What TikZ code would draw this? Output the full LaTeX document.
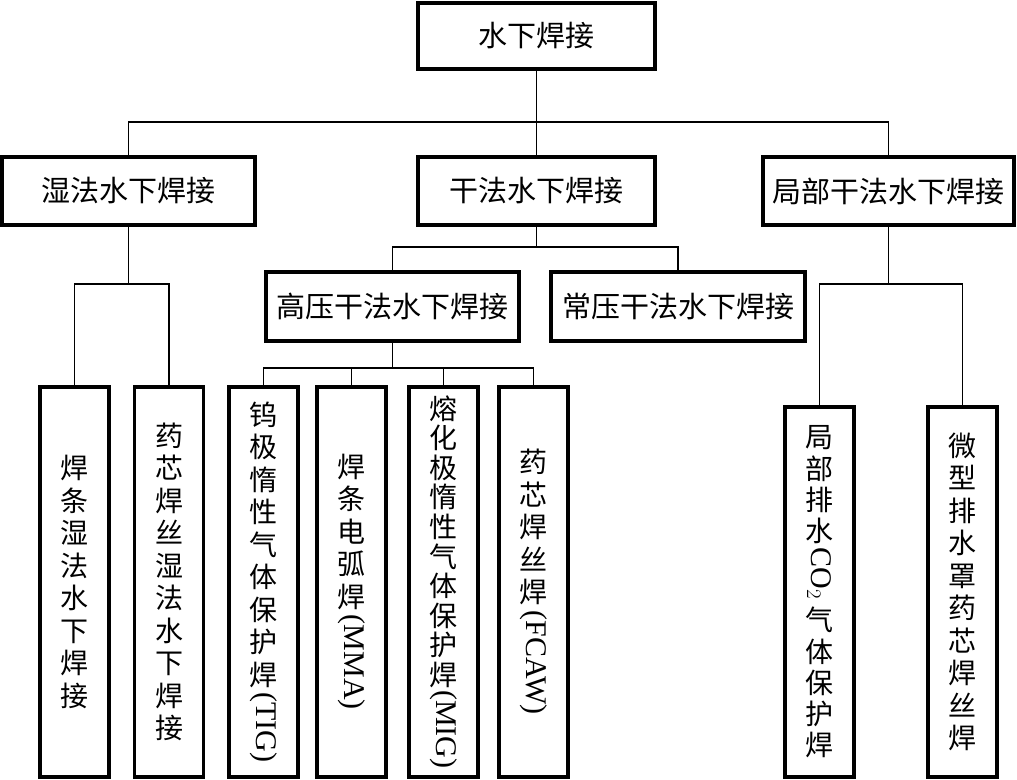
\documentclass[tikz,border=0pt]{standalone}
\usepackage{fontspec}
\usepackage{graphicx}
\setmainfont{Liberation Serif}
\newfontfamily\cjk{Noto Sans CJK SC}
\newfontfamily\lat{Liberation Serif}
\newcommand{\rl}[1]{\raisebox{25pt}{\rotatebox{-90}{\lat\fontsize{30}{30}\selectfont #1}}}
\tikzset{
  box/.style={draw, line width=3.2pt, minimum height=68pt, inner sep=0pt,
    font=\cjk\fontsize{29}{29}\selectfont},
  col/.style={draw, line width=3.2pt, minimum width=69pt, inner sep=0pt, align=center,
    font=\cjk\fontsize{28}{32.5}\selectfont},
  link/.style={line width=1.2pt},
}
\begin{document}
\begin{tikzpicture}[x=1pt,y=-1pt]
\fill[white] (0,0) rectangle (1017,779);
\useasboundingbox (0,0) rectangle (1017,779);

% level 1 and 2
\node[box, minimum width=237pt, minimum height=66pt] (top) at (536.5,36) {水下焊接};
\node[box, minimum width=253pt] (wet) at (128.5,191) {湿法水下焊接};
\node[box, minimum width=237pt] (dry) at (536.5,191) {干法水下焊接};
\node[box, minimum width=251pt] (loc) at (888.5,191) {局部干法水下焊接};
% level 3
\node[box, minimum width=253pt, minimum height=69pt] (hp) at (392.5,306.5) {高压干法水下焊接};
\node[box, minimum width=254pt, minimum height=69pt] (np) at (678,306.5) {常压干法水下焊接};
% columns
\node[col, minimum height=390pt] (c1) at (74.5,582) {焊\\条\\湿\\法\\水\\下\\焊\\接};
\node[col, minimum height=390pt] (c2) at (169,582) {药\\芯\\焊\\丝\\湿\\法\\水\\下\\焊\\接};
\node[col, minimum height=390pt] (tig) at (263.5,582) {钨\\极\\惰\\性\\气\\体\\保\\护\\焊\\\rl{(TIG)}};
\node[col, minimum height=390pt] (mma) at (351.5,582) {焊\\条\\电\\弧\\焊\\\rl{(MMA)}};
\node[col, minimum height=390pt, font=\cjk\fontsize{28}{29.6}\selectfont] (mig) at (443.5,582) {熔\\化\\极\\惰\\性\\气\\体\\保\\护\\焊\\\rl{(MIG)}};
\node[col, minimum height=390pt] (fcaw) at (533.5,582) {药\\芯\\焊\\丝\\焊\\\rl{(FCAW)}};
\node[col, minimum height=370pt, font=\cjk\fontsize{28}{31.2}\selectfont] (co) at (819.5,592) {局\\部\\排\\水\\\rl{CO$_2$}\\[7pt]气\\体\\保\\护\\焊};
\node[col, minimum height=370pt] (mic) at (962.5,592) {微\\型\\排\\水\\罩\\药\\芯\\焊\\丝\\焊};

% connectors
\coordinate (b1) at (536.5,122);
\draw[link] (top.south) -- (b1);
\draw[link] (wet.north) |- (b1) -| (loc.north);
\draw[link] (dry.north) -- (b1);

\coordinate (b2) at (128.5,284);
\draw[link] (wet.south) -- (b2);
\draw[link] (c1.north) |- (b2) -| (c2.north);

\coordinate (b3) at (536.5,247);
\draw[link] (dry.south) -- (b3);
\draw[link] (hp.north) |- (b3) -| (np.north);

\coordinate (b4) at (392.5,368);
\draw[link] (hp.south) -- (b4);
\draw[link] (tig.north) |- (b4) -| (fcaw.north);
\draw[link] (mma.north) -- (mma.north |- b4);
\draw[link] (mig.north) -- (mig.north |- b4);

\coordinate (b5) at (888.5,284);
\draw[link] (loc.south) -- (b5);
\draw[link] (co.north) |- (b5) -| (mic.north);
\end{tikzpicture}
\end{document}
